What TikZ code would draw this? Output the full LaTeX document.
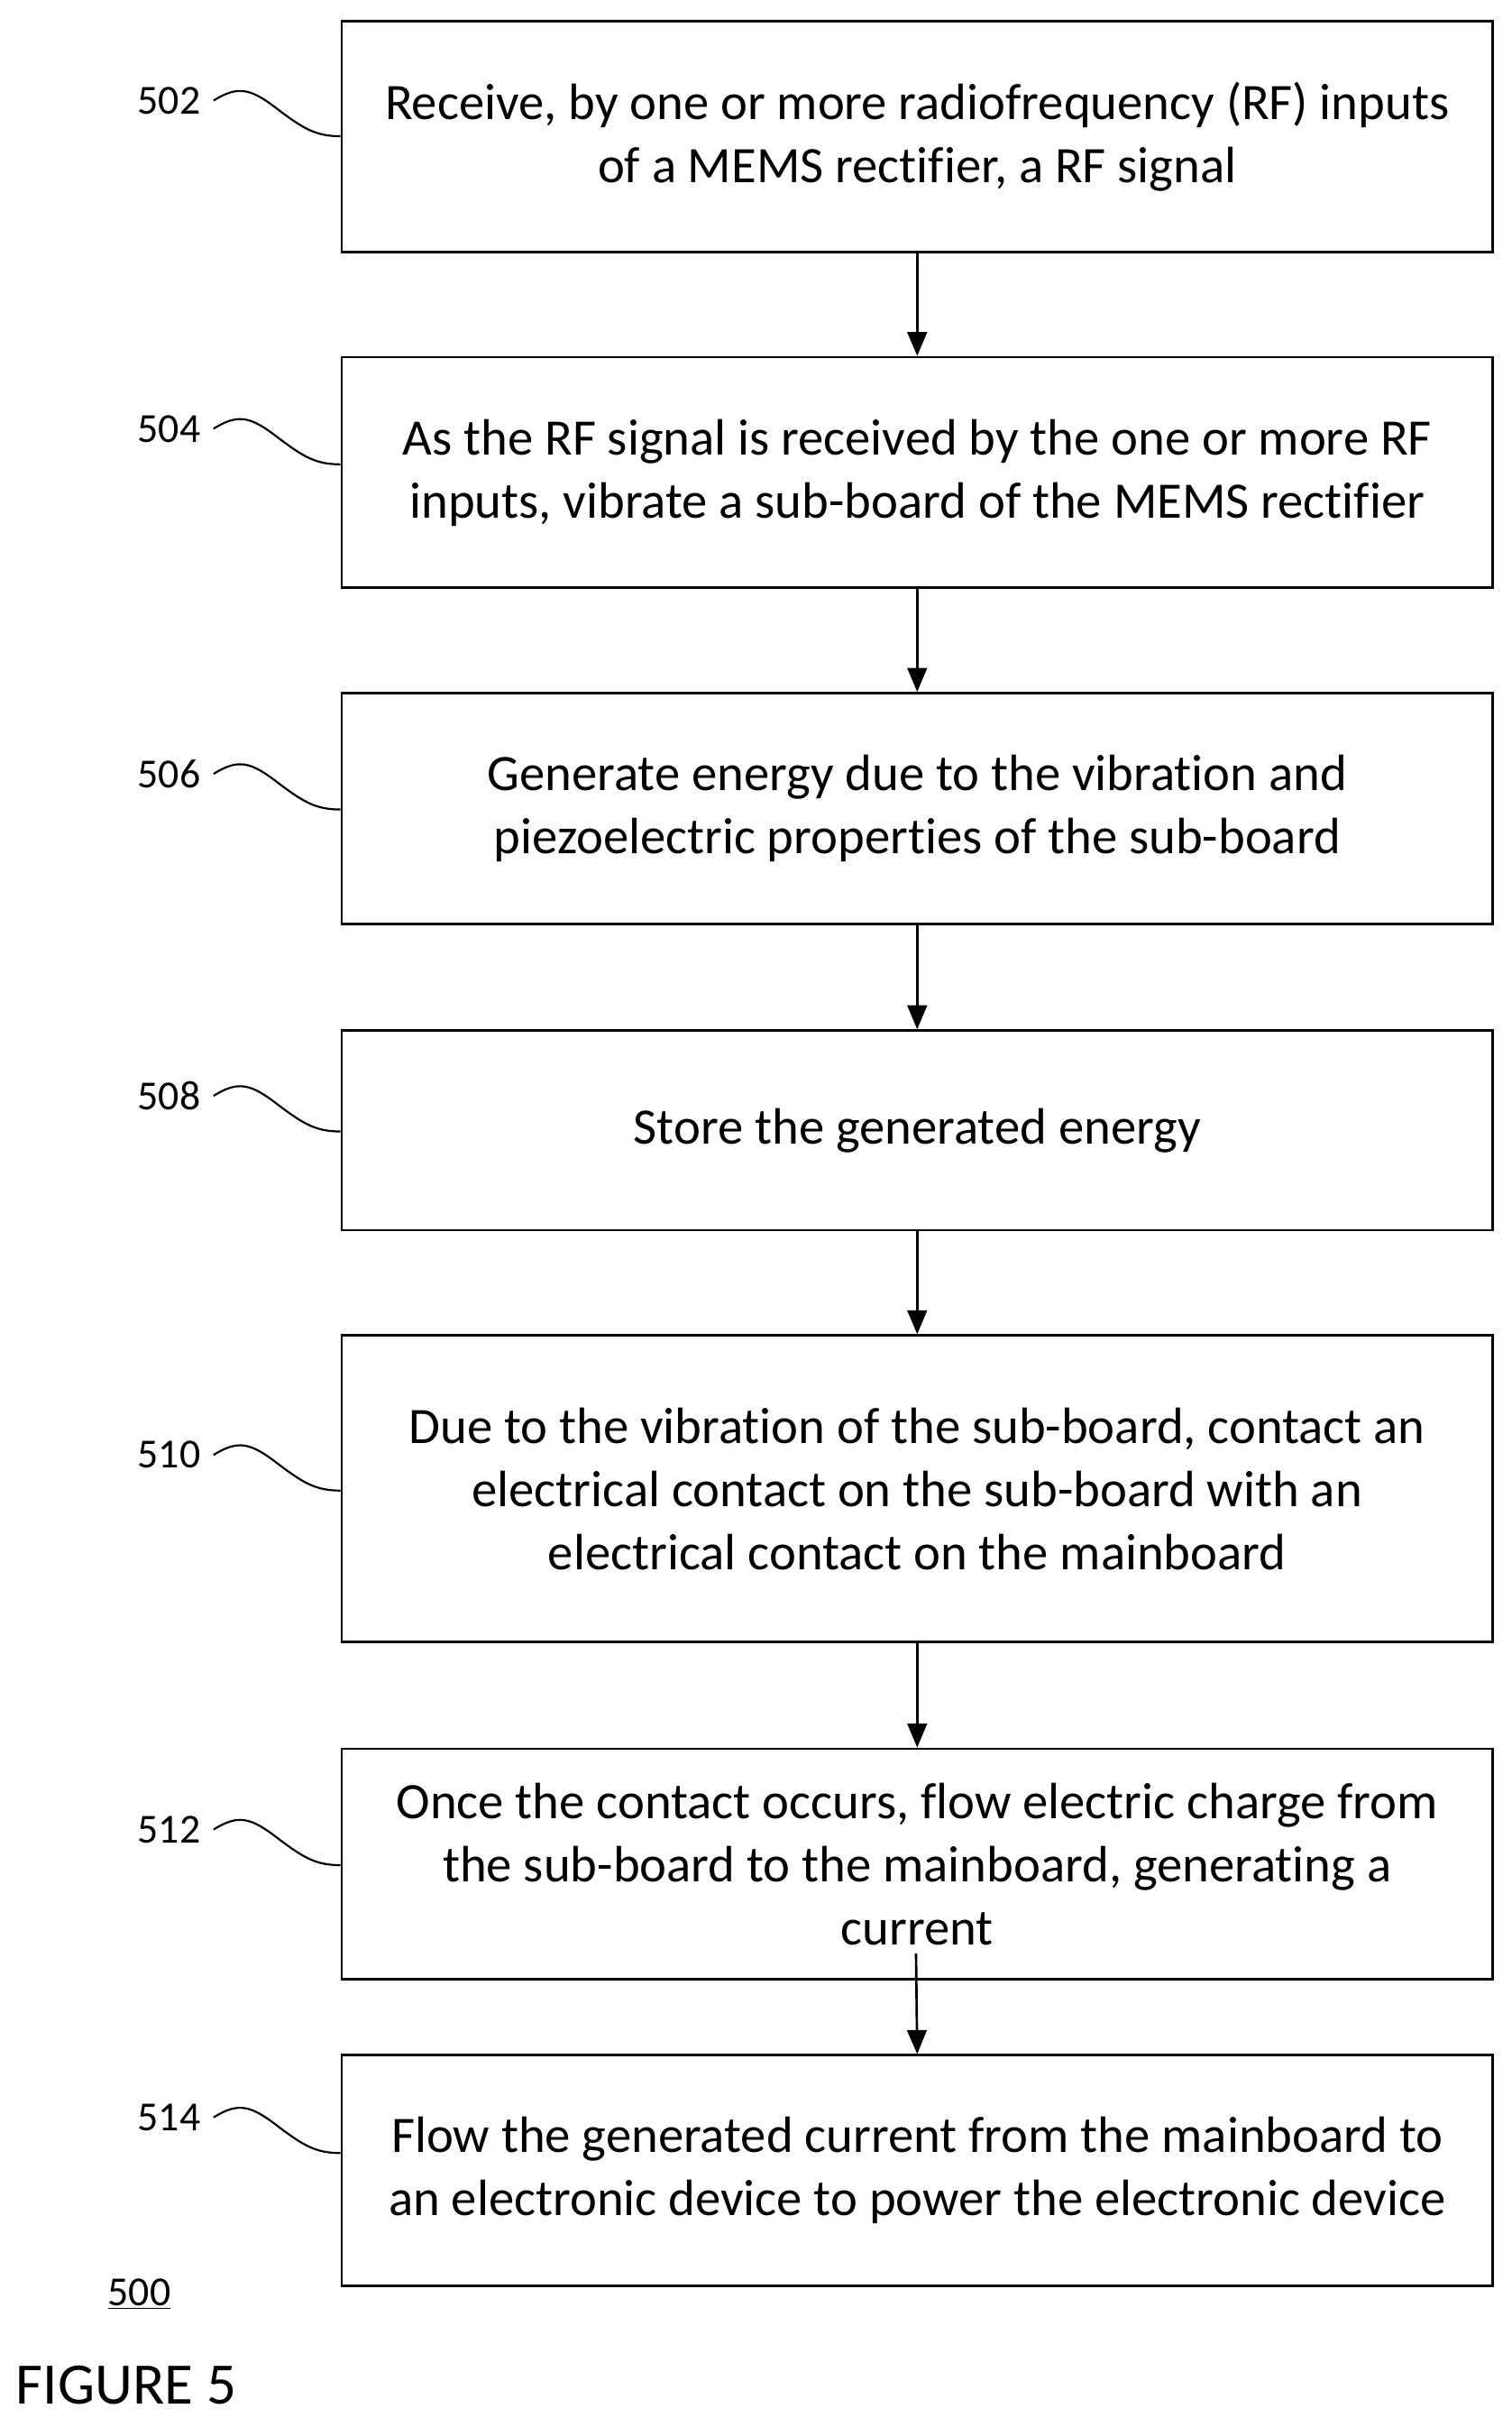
\documentclass[tikz,border=0pt]{standalone}
\usepackage{fontspec}
\setmainfont{Carlito}[Ligatures=NoCommon]
\usetikzlibrary{arrows.meta}
\begin{document}
\begin{tikzpicture}[x=0.05cm,y=-0.05cm,
  box/.style={draw,line width=2.2pt,minimum width=37.2cm,inner sep=0pt,align=center,font=\fontsize{47}{58}\selectfont,anchor=north west},
  lab/.style={font=\fontsize{38}{44}\selectfont,anchor=east},
  arr/.style={line width=2.2pt,-{Triangle[length=22pt,width=18pt]}},
  sq/.style={line width=1.8pt}]
\useasboundingbox (0,0) rectangle (977,1568);
\def\stp#1#2#3#4{% name, top, height, text
  \node[box,minimum height=#3*0.05cm] (#1) at (220,#2) {#4};}
\stp{b1}{13}{149}{Receive, by one or more radiofrequency (RF) inputs\\of a MEMS rectifier, a RF signal}
\stp{b2}{230}{149}{As the RF signal is received by the one or more RF\\inputs, vibrate a sub-board of the MEMS rectifier}
\stp{b3}{447}{149}{Generate energy due to the vibration and\\piezoelectric properties of the sub-board}
\stp{b4}{665}{129}{Store the generated energy}
\stp{b5}{862}{198}{Due to the vibration of the sub-board, contact an\\electrical contact on the sub-board with an\\electrical contact on the mainboard}
\stp{b6}{1129}{149}{Once the contact occurs, flow electric charge from\\the sub-board to the mainboard, generating a\\current}
\stp{b7}{1327}{149}{Flow the generated current from the mainboard to\\an electronic device to power the electronic device}
\foreach \a/\b in {b1/b2,b2/b3,b3/b4,b4/b5,b5/b6}{\draw[arr] (\a.south) -- (\b.north);}
\coordinate (c6) at (592,1262);
\draw[arr] (c6) -- (b7.north);
\foreach \n/\y/\t in {l1/65/502,l2/277/504,l3/500/506,l4/708/508,l5/940/510,l6/1182/512,l7/1368/514}{
  \node[lab] (\n) at (132,\y) {\t};
  \draw[sq] (\n.east) ++(6,0) .. controls +(16,-10) and +(-18,-14) .. +(42,6) .. controls +(16,12) and +(-16,0) .. +(82,23);
}
\node[font=\fontsize{38}{44}\selectfont] (n500) at (90,1482) {\underline{500}};
\node[font=\fontsize{54}{60}\selectfont,anchor=west] (fig) at (8,1541) {FIGURE 5};
\end{tikzpicture}
\end{document}
